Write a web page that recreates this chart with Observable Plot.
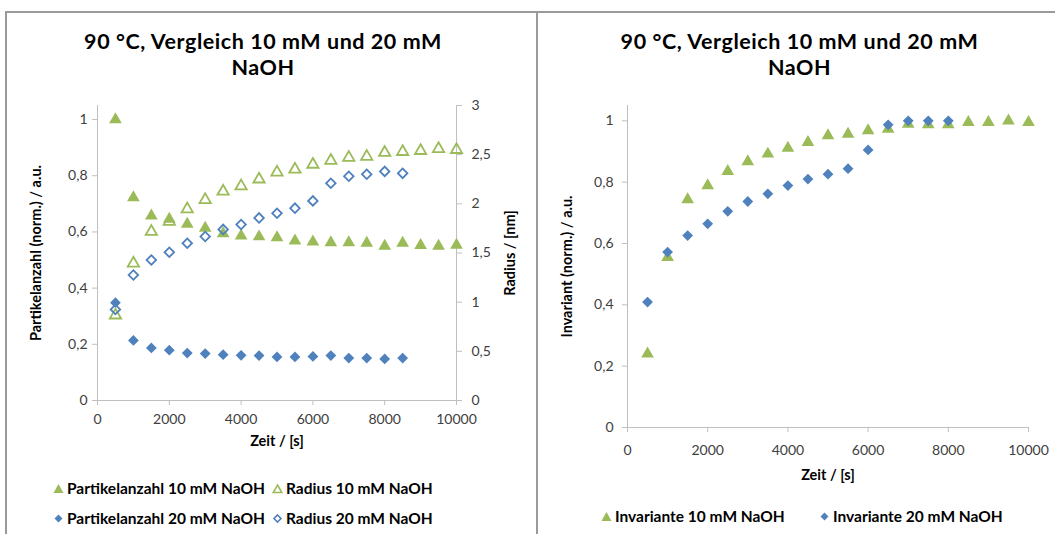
<!DOCTYPE html>
<html>
<head>
<meta charset="utf-8">
<script src="https://cdn.jsdelivr.net/npm/d3@7"></script>
<script src="https://cdn.jsdelivr.net/npm/@observablehq/plot@0.6"></script>
<style>
  html, body { margin: 0; padding: 0; background: #fff; }
  #root { position: relative; width: 1055px; height: 534px; overflow: hidden; background: #fff; font-family: Lato, "Open Sans", sans-serif; }
  .abs { position: absolute; }
  .title { position: absolute; text-align: center; font-weight: bold; font-size: 21.5px; letter-spacing: 0.55px; line-height: 26px; height: 26px; color: #000; white-space: nowrap; }
  .leg { position: absolute; font-weight: bold; font-size: 15.5px; color: #000; white-space: nowrap; display: flex; align-items: center; }
  .leg svg { margin-right: 3px; }
  .vline { position: absolute; width: 2px; background: #9a9a9a; }
  .hline { position: absolute; height: 2px; background: #9a9a9a; }
  svg [aria-label$="axis label"] text { font-weight: bold; fill: #000; font-size: 14.5px; }
</style>
</head>
<body>
<div id="root">
  <div class="hline" style="left:5px; top:11px; width:1050px;"></div>
  <div class="vline" style="left:5px; top:11px; height:523px;"></div>
  <div class="vline" style="left:536px; top:11px; height:523px;"></div>
  <div id="leftChart" class="abs" style="left:0; top:0;"></div>
  <div id="leftChart2" class="abs" style="left:0; top:0;"></div>
  <div id="rightChart" class="abs" style="left:540px; top:0;"></div>
</div>
<script>
// ---------- data ----------
const zeit10 = [500, 1000, 1500, 2000, 2500, 3000, 3500, 4000, 4500, 5000, 5500, 6000, 6500, 7000, 7500, 8000, 8500, 9000, 9500, 10000];
const zeit20 = [500, 1000, 1500, 2000, 2500, 3000, 3500, 4000, 4500, 5000, 5500, 6000, 6500, 7000, 7500, 8000, 8500];
const zeitInv20 = [500, 1000, 1500, 2000, 2500, 3000, 3500, 4000, 4500, 5000, 5500, 6000, 6500, 7000, 7500, 8000];

const partikel10 = [1.0, 0.722, 0.657, 0.646, 0.628, 0.614, 0.594, 0.586, 0.583, 0.58, 0.568, 0.565, 0.562, 0.562, 0.56, 0.55, 0.56, 0.552, 0.55, 0.553];
const partikel20 = [0.348, 0.214, 0.187, 0.179, 0.169, 0.167, 0.163, 0.161, 0.160, 0.155, 0.155, 0.157, 0.160, 0.151, 0.151, 0.148, 0.151];
const radius10 = [0.867, 1.395, 1.717, 1.82, 1.946, 2.04, 2.126, 2.18, 2.25, 2.32, 2.35, 2.40, 2.44, 2.47, 2.48, 2.52, 2.53, 2.54, 2.56, 2.55];
const radius20 = [0.925, 1.276, 1.429, 1.507, 1.6, 1.667, 1.74, 1.79, 1.857, 1.905, 1.956, 2.03, 2.21, 2.28, 2.30, 2.33, 2.31];
const invariante10 = [0.24, 0.555, 0.743, 0.789, 0.835, 0.867, 0.892, 0.911, 0.93, 0.952, 0.957, 0.968, 0.973, 0.989, 0.988, 0.988, 0.995, 0.995, 1.0, 0.995];
const invariante20 = [0.409, 0.572, 0.626, 0.664, 0.705, 0.737, 0.762, 0.789, 0.81, 0.826, 0.844, 0.905, 0.987, 1.0, 1.0, 1.0];

const xTicks = [0, 2000, 4000, 6000, 8000, 10000];
const normTicks = [0, 0.2, 0.4, 0.6, 0.8, 1];
const radiusTicks = [0, 0.5, 1, 1.5, 2, 2.5, 3];

const titleLines = ["90 °C, Vergleich 10 mM und 20 mM", "NaOH"];
const xLabel = "Zeit / [s]";
const yLabelLeft = "Partikelanzahl (norm.) / a.u.";
const yLabelRadius = "Radius / [nm]";
const yLabelInv = "Invariant (norm.) / a.u.";
const seriesLeft = ["Partikelanzahl 10 mM NaOH", "Radius 10 mM NaOH", "Partikelanzahl 20 mM NaOH", "Radius 20 mM NaOH"];
const seriesRight = ["Invariante 10 mM NaOH", "Invariante 20 mM NaOH"];

// ---------- style ----------
const green = "#9BBB59", blue = "#4F81BD", axisGray = "#BFBFBF", tickText = "#404040";
const fmt = d => String(d).replace(".", ",");
const rows = (xs, ys) => ys.map((v, i) => ({t: xs[i], v}));
const baseStyle = {fontFamily: "Lato, 'Open Sans', sans-serif", fontSize: "14px", color: tickText, background: "transparent", overflow: "visible"};
const root = document.getElementById("root");

// ---------- titles ----------
function titleBlock(left, width) {
  titleLines.forEach((line, i) => {
    const d = document.createElement("div");
    d.className = "title";
    d.style.left = left + "px"; d.style.width = width + "px";
    d.style.top = (28 + i * 26) + "px";
    d.textContent = line;
    root.append(d);
  });
}
titleBlock(0, 526);
titleBlock(541, 517);

// ---------- left chart (primary axis) ----------
const leftDims = {width: 537, height: 470, marginLeft: 97, marginRight: 81, marginTop: 105, marginBottom: 70};
const left = Plot.plot({
  ...leftDims,
  style: baseStyle,
  x: {domain: [0, 10000]},
  y: {domain: [0, 1.05]},
  marks: [
    Plot.ruleY([0], {stroke: axisGray}),
    Plot.ruleX([0], {stroke: axisGray}),
    Plot.ruleX([10000], {stroke: axisGray}),
    Plot.axisX({ticks: xTicks, tickFormat: fmt, tickSize: 5, tickPadding: 9, stroke: axisGray, fill: tickText,
      label: xLabel, labelAnchor: "center", labelArrow: "none", labelOffset: 45}),
    Plot.axisY({ticks: normTicks, tickFormat: fmt, tickSize: 5, tickPadding: 5, stroke: axisGray, fill: tickText,
      label: yLabelLeft, labelAnchor: "center", labelArrow: "none", labelOffset: 67}),
    Plot.dot(rows(zeit10, partikel10), {x: "t", y: "v", symbol: "triangle", fill: green, r: 4.7}),
    Plot.dot(rows(zeit20, partikel20), {x: "t", y: "v", symbol: "square", rotate: 45, fill: blue, r: 4.3})
  ]
});
document.getElementById("leftChart").append(left);

// ---------- left chart (secondary axis: Radius) ----------
const left2 = Plot.plot({
  ...leftDims,
  style: baseStyle,
  x: {domain: [0, 10000], axis: null},
  y: {domain: [0, 3]},
  marks: [
    Plot.axisY({anchor: "right", ticks: radiusTicks, tickFormat: fmt, tickSize: 5, tickPadding: 10, stroke: axisGray, fill: tickText,
      label: yLabelRadius, labelAnchor: "center", labelArrow: "none", labelOffset: 58}),
    Plot.dot(rows(zeit10, radius10), {x: "t", y: "v", symbol: "triangle", fill: "none", stroke: green, strokeWidth: 1.8, r: 4.2}),
    Plot.dot(rows(zeit20, radius20), {x: "t", y: "v", symbol: "square", rotate: 45, fill: "none", stroke: blue, strokeWidth: 1.8, r: 3.8})
  ]
});
document.getElementById("leftChart2").append(left2);

// ---------- right chart ----------
const right = Plot.plot({
  width: 515, height: 490, marginLeft: 87, marginRight: 27, marginTop: 105, marginBottom: 63,
  style: baseStyle,
  x: {domain: [0, 10000]},
  y: {domain: [0, 1.05]},
  marks: [
    Plot.ruleY([0], {stroke: axisGray}),
    Plot.ruleX([0], {stroke: axisGray}),
    Plot.axisX({ticks: xTicks, tickFormat: fmt, tickSize: 5, tickPadding: 13, stroke: axisGray, fill: tickText,
      label: xLabel, labelAnchor: "center", labelArrow: "none", labelOffset: 52}),
    Plot.axisY({ticks: normTicks, tickFormat: fmt, tickSize: 5, tickPadding: 9, stroke: axisGray, fill: tickText,
      label: yLabelInv, labelAnchor: "center", labelArrow: "none", labelOffset: 66}),
    Plot.dot(rows(zeit10, invariante10), {x: "t", y: "v", symbol: "triangle", fill: green, r: 4.7}),
    Plot.dot(rows(zeitInv20, invariante20), {x: "t", y: "v", symbol: "square", rotate: 45, fill: blue, r: 4.3})
  ]
});
document.getElementById("rightChart").append(right);

// ---------- legends ----------
function icon(kind) {
  const ns = "http://www.w3.org/2000/svg";
  const s = document.createElementNS(ns, "svg");
  s.setAttribute("width", 11); s.setAttribute("height", 11);
  const p = document.createElementNS(ns, "path");
  const shapes = {
    triFill: ["M5.5,1L10.5,10L0.5,10Z", green, "none"],
    triOpen: ["M5.5,2L9.8,9.5L1.2,9.5Z", "none", green],
    diaFill: ["M5.5,1.5L9.5,5.5L5.5,9.5L1.5,5.5Z", blue, "none"],
    diaOpen: ["M5.5,2L9,5.5L5.5,9L2,5.5Z", "none", blue]
  };
  const [d, f, st] = shapes[kind];
  p.setAttribute("d", d); p.setAttribute("fill", f); p.setAttribute("stroke", st); p.setAttribute("stroke-width", 1.6);
  s.append(p);
  return s;
}
function legendItem(kind, text, x, y) {
  const div = document.createElement("div");
  div.className = "leg";
  div.style.left = x + "px"; div.style.top = y + "px";
  div.append(icon(kind));
  const span = document.createElement("span");
  span.textContent = text;
  div.append(span);
  root.append(div);
}
legendItem("triFill", seriesLeft[0], 53, 479);
legendItem("triOpen", seriesLeft[1], 272, 479);
legendItem("diaFill", seriesLeft[2], 53, 509);
legendItem("diaOpen", seriesLeft[3], 272, 509);
legendItem("triFill", seriesRight[0], 601, 507);
legendItem("diaFill", seriesRight[1], 819, 507);
</script>
</body>
</html>
